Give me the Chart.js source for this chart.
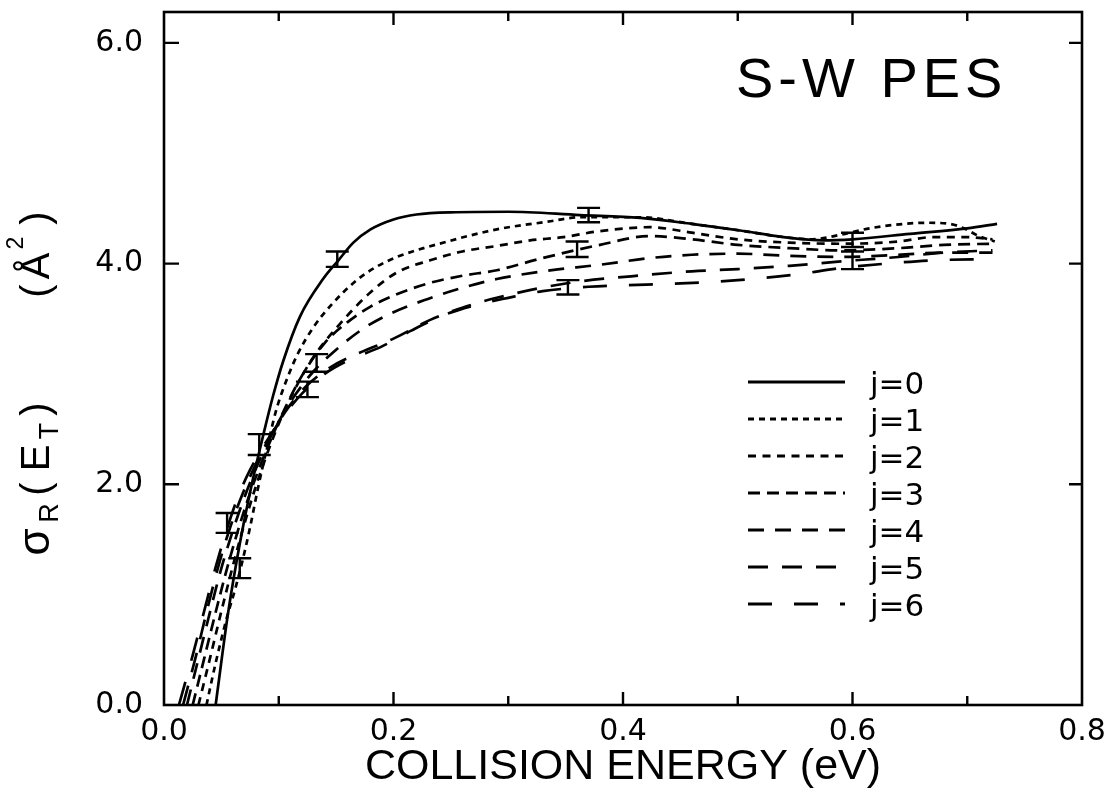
<!DOCTYPE html>
<html>
<head>
<meta charset="utf-8">
<script src="https://cdn.jsdelivr.net/npm/chart.js@4.4.1/dist/chart.umd.min.js"></script>
<style>
  html, body { margin: 0; padding: 0; background: #fff; }
  #c { display: block; }
</style>
</head>
<body>
<canvas id="c" width="1104" height="794"></canvas>
<script>
// Axis ticks and labels
const xTicks = [0, 0.2, 0.4, 0.6, 0.8];
const xTickLabels = ['0.0', '0.2', '0.4', '0.6', '0.8'];
const xMinorTicks = [0.1, 0.3, 0.5, 0.7];
const yTicks = [0, 2, 4, 6];
const yTickLabels = ['0.0', '2.0', '4.0', '6.0'];

const seriesNames = ['j=0', 'j=1', 'j=2', 'j=3', 'j=4', 'j=5', 'j=6'];

// Reaction cross sections sigma_R(E_T) (Å^2) vs collision energy (eV), one curve per j
const e0 = [0.045, 0.0558, 0.0662, 0.0767, 0.0866, 0.095, 0.104, 0.1185, 0.1386, 0.152, 0.165, 0.18, 0.2, 0.22, 0.25, 0.3, 0.3625, 0.415, 0.46, 0.502, 0.54, 0.574, 0.6, 0.65, 0.70, 0.726];
const s0 = [0, 0.83, 1.47, 2.01, 2.45, 2.8, 3.12, 3.52, 3.86, 4.03, 4.19, 4.31, 4.40, 4.445, 4.465, 4.47, 4.44, 4.415, 4.36, 4.30, 4.24, 4.21, 4.22, 4.27, 4.32, 4.36];

const e1 = [0.037, 0.045, 0.055, 0.062, 0.068, 0.075, 0.081, 0.086, 0.092, 0.098, 0.107, 0.116, 0.13, 0.147, 0.168, 0.185, 0.203, 0.247, 0.29, 0.3345, 0.3625, 0.415, 0.46, 0.502, 0.54, 0.565, 0.589, 0.615, 0.645, 0.665, 0.685, 0.697, 0.71, 0.724];
const s1 = [0, 0.38, 0.8, 1.05, 1.29, 1.61, 1.92, 2.16, 2.43, 2.68, 2.95, 3.17, 3.42, 3.64, 3.85, 3.97, 4.06, 4.2, 4.31, 4.38, 4.42, 4.42, 4.36, 4.30, 4.24, 4.22, 4.26, 4.32, 4.36, 4.37, 4.36, 4.32, 4.25, 4.20];

const e2 = [0.030, 0.04, 0.05, 0.06, 0.07, 0.08, 0.09, 0.1, 0.115, 0.13, 0.153, 0.18, 0.203, 0.232, 0.26, 0.29, 0.319, 0.348, 0.377, 0.4235, 0.46, 0.5, 0.545, 0.59, 0.64, 0.67, 0.7, 0.722];
const s2 = [0, 0.42, 0.85, 1.26, 1.64, 1.98, 2.28, 2.55, 2.88, 3.15, 3.45, 3.74, 3.92, 4.03, 4.11, 4.16, 4.21, 4.24, 4.29, 4.33, 4.28, 4.22, 4.19, 4.18, 4.2, 4.24, 4.24, 4.22];

const e3 = [0.025, 0.035, 0.045, 0.055, 0.065, 0.075, 0.085, 0.095, 0.105, 0.12, 0.14, 0.16, 0.18, 0.2, 0.23, 0.26, 0.29, 0.33, 0.38, 0.4235, 0.46, 0.5, 0.545, 0.59, 0.64, 0.68, 0.722];
const s3 = [0, 0.42, 0.84, 1.24, 1.6, 1.92, 2.2, 2.45, 2.68, 2.98, 3.28, 3.47, 3.61, 3.71, 3.82, 3.89, 3.94, 4.05, 4.17, 4.25, 4.22, 4.17, 4.14, 4.12, 4.14, 4.17, 4.18];

const e4 = [0.020, 0.03, 0.04, 0.05, 0.06, 0.07, 0.08, 0.09, 0.1, 0.115, 0.13, 0.15, 0.175, 0.2, 0.23, 0.26, 0.29, 0.33, 0.38, 0.4235, 0.46, 0.5, 0.545, 0.59, 0.64, 0.68, 0.722];
const s4 = [0, 0.42, 0.84, 1.24, 1.58, 1.88, 2.14, 2.37, 2.57, 2.82, 3.02, 3.22, 3.42, 3.56, 3.68, 3.78, 3.86, 3.93, 3.99, 4.05, 4.08, 4.09, 4.07, 4.06, 4.08, 4.1, 4.1];

const e5 = [0.0166, 0.028, 0.038, 0.048, 0.058, 0.068, 0.08, 0.095, 0.11, 0.125, 0.145, 0.17, 0.2, 0.232, 0.26, 0.29, 0.35, 0.4235, 0.46, 0.5, 0.545, 0.59, 0.64, 0.68, 0.722];
const s5 = [0, 0.45, 0.88, 1.28, 1.62, 1.9, 2.18, 2.48, 2.72, 2.9, 3.06, 3.19, 3.32, 3.49, 3.6, 3.69, 3.82, 3.9, 3.93, 3.95, 3.98, 4.02, 4.06, 4.1, 4.12];

const e6 = [0.013, 0.025, 0.035, 0.045, 0.055, 0.065, 0.075, 0.09, 0.105, 0.12, 0.14, 0.16, 0.19, 0.215, 0.243, 0.27, 0.3, 0.33, 0.37, 0.42, 0.47, 0.5, 0.55, 0.59, 0.63, 0.67, 0.72];
const s6 = [0, 0.45, 0.85, 1.25, 1.6, 1.9, 2.13, 2.4, 2.63, 2.82, 3.0, 3.12, 3.25, 3.39, 3.53, 3.62, 3.69, 3.75, 3.79, 3.81, 3.83, 3.85, 3.9, 3.96, 4.0, 4.03, 4.04];

// Measured points with error bars
const errE = [0.055, 0.066, 0.083, 0.125, 0.133, 0.151, 0.352, 0.36, 0.37, 0.6, 0.6];
const errS = [1.65, 1.24, 2.36, 2.86, 3.10, 4.04, 3.785, 4.13, 4.44, 4.215, 4.03];
const errD = [0.09, 0.09, 0.095, 0.07, 0.08, 0.07, 0.065, 0.07, 0.065, 0.065, 0.08];

// Line styles
const curveE = [e0, e1, e2, e3, e4, e5, e6];
const curveS = [s0, s1, s2, s3, s4, s5, s6];
const dashPatterns = [[], [6, 5], [8, 6.5], [12, 7], [16, 11], [20, 14], [24, 22]];

const INK = '#000';

const datasets = curveE.map((e, i) => ({
  label: seriesNames[i],
  data: e.map((x, k) => ({ x: x, y: curveS[i][k] })),
  showLine: true,
  borderColor: INK,
  borderWidth: 2.7,
  borderDash: dashPatterns[i],
  pointRadius: 0,
  pointHoverRadius: 0,
  cubicInterpolationMode: 'monotone',
  fill: false
}));

// Frame, inward ticks, error bars, legend and annotations
const decorations = {
  id: 'decorations',
  afterDraw(chart) {
    const ctx = chart.ctx;
    const xs = chart.scales.x, ys = chart.scales.y;
    const a = chart.chartArea;
    ctx.save();
    ctx.strokeStyle = INK;
    ctx.fillStyle = INK;
    ctx.lineCap = 'butt';

    // frame
    ctx.lineWidth = 2.6;
    ctx.setLineDash([]);
    ctx.strokeRect(a.left, a.top, a.right - a.left, a.bottom - a.top);

    // x ticks, bottom and top, pointing inward
    ctx.lineWidth = 2.4;
    const xt = xTicks.map(v => [v, 13]).concat(xMinorTicks.map(v => [v, 9]));
    xt.forEach(([v, len]) => {
      const px = xs.getPixelForValue(v);
      if (px <= a.left + 1 || px >= a.right - 1) return;
      ctx.beginPath();
      ctx.moveTo(px, a.bottom); ctx.lineTo(px, a.bottom - len);
      ctx.moveTo(px, a.top); ctx.lineTo(px, a.top + len);
      ctx.stroke();
    });
    // y ticks, left and right
    yTicks.forEach(v => {
      const py = ys.getPixelForValue(v);
      if (py >= a.bottom - 1) return;
      ctx.beginPath();
      ctx.moveTo(a.left, py); ctx.lineTo(a.left + 15, py);
      ctx.moveTo(a.right, py); ctx.lineTo(a.right - 13, py);
      ctx.stroke();
    });

    // error bars
    ctx.lineWidth = 2.4;
    errE.forEach((x, i) => {
      const px = xs.getPixelForValue(x);
      const pTop = ys.getPixelForValue(errS[i] + errD[i]);
      const pBot = ys.getPixelForValue(errS[i] - errD[i]);
      ctx.beginPath();
      ctx.moveTo(px, pTop); ctx.lineTo(px, pBot);
      ctx.moveTo(px - 11.5, pTop); ctx.lineTo(px + 11.5, pTop);
      ctx.moveTo(px - 11.5, pBot); ctx.lineTo(px + 11.5, pBot);
      ctx.stroke();
    });

    // legend
    const lx0 = 748, lx1 = 845, ly0 = 382, lstep = 37;
    chart.data.datasets.forEach((ds, i) => {
      const y = ly0 + i * lstep;
      ctx.lineWidth = 2.9;
      ctx.setLineDash(ds.borderDash || []);
      ctx.lineDashOffset = 0;
      ctx.beginPath();
      ctx.moveTo(lx0, y); ctx.lineTo(lx1, y);
      ctx.stroke();
      ctx.setLineDash([]);
      ctx.font = '31px "DejaVu Sans"';
      ctx.textAlign = 'left';
      ctx.textBaseline = 'alphabetic';
      ctx.fillText(ds.label, 870, y + 12);
    });

    // annotation
    ctx.font = '56px "Liberation Sans"';
    ctx.textAlign = 'left';
    ctx.textBaseline = 'alphabetic';
    if ('letterSpacing' in ctx) ctx.letterSpacing = '5px';
    ctx.fillText('S-W PES', 736, 97);
    if ('letterSpacing' in ctx) ctx.letterSpacing = '0px';

    // y axis title, rotated, with sub- and superscripts
    const baseX = 49;
    const pieces = [
      ['σ', 542, '44px "Liberation Sans"', 0],
      ['R', 513, '27px "Liberation Sans"', 9],
      ['(', 489, '40px "Liberation Sans"', 0],
      ['E', 458, '40px "Liberation Sans"', 0],
      ['T', 431, '27px "Liberation Sans"', 9],
      [')', 409, '40px "Liberation Sans"', 0],
      ['(', 291, '40px "Liberation Sans"', 0],
      ['Å', 266, '40px "Liberation Sans"', 0],
      ['2', 243, '23px "Liberation Sans"', -26],
      [')', 218, '40px "Liberation Sans"', 0]
    ];
    pieces.forEach(([t, along, font, shift]) => {
      ctx.save();
      ctx.translate(baseX + shift, along);
      ctx.rotate(-Math.PI / 2);
      ctx.font = font;
      ctx.textAlign = 'center';
      ctx.textBaseline = 'alphabetic';
      ctx.fillText(t, 0, 0);
      ctx.restore();
    });

    ctx.restore();
  }
};

new Chart(document.getElementById('c').getContext('2d'), {
  type: 'scatter',
  data: { datasets: datasets },
  options: {
    responsive: false,
    animation: false,
    devicePixelRatio: 1,
    events: [],
    layout: { padding: { left: 0, right: 22, top: 12, bottom: 0 } },
    plugins: { legend: { display: false }, tooltip: { enabled: false } },
    scales: {
      x: {
        type: 'linear', min: 0, max: 0.8,
        grid: { display: false, drawTicks: false },
        border: { display: false },
        afterBuildTicks: s => { s.ticks = xTicks.map(v => ({ value: v })); },
        afterFit: s => { s.height = 89; s.paddingLeft = 0; s.paddingRight = 0; },
        ticks: {
          color: INK, padding: 9, maxRotation: 0, autoSkip: false,
          font: { family: 'DejaVu Sans', size: 30, lineHeight: 1.2 },
          callback: v => xTickLabels[xTicks.indexOf(v)]
        },
        title: {
          display: true, text: 'COLLISION ENERGY (eV)', color: INK,
          font: { family: 'Liberation Sans', size: 43, lineHeight: 1.2 },
          padding: { top: 0, bottom: 1 }
        }
      },
      y: {
        type: 'linear', min: 0, max: 6.28,
        grid: { display: false, drawTicks: false },
        border: { display: false },
        afterBuildTicks: s => { s.ticks = yTicks.map(v => ({ value: v })); },
        afterFit: s => { s.width = 164; s.paddingTop = 0; s.paddingBottom = 0; },
        ticks: {
          color: INK, padding: 21, autoSkip: false,
          font: { family: 'DejaVu Sans', size: 30, lineHeight: 1.2 },
          callback: v => yTickLabels[yTicks.indexOf(v)]
        }
      }
    }
  },
  plugins: [decorations]
});
</script>
</body>
</html>
